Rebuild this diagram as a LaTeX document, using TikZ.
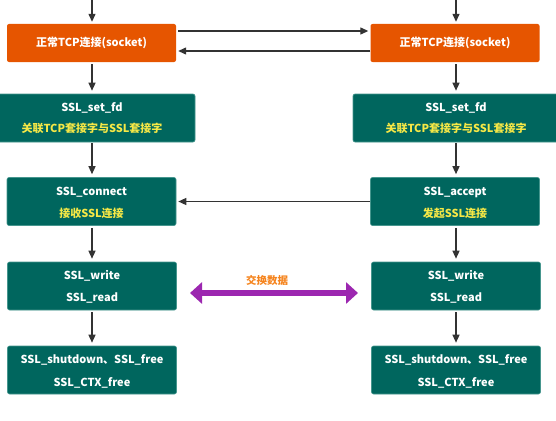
\documentclass[tikz,border=0pt]{standalone}
\usepackage{fontspec}
\setmainfont{Noto Sans CJK SC}
\usetikzlibrary{arrows.meta}
\definecolor{boxteal}{RGB}{0,102,94}
\definecolor{boxedge}{RGB}{70,150,142}
\definecolor{boxorange}{RGB}{230,85,0}
\definecolor{txtyellow}{RGB}{246,232,70}
\definecolor{lblorange}{RGB}{245,132,30}
\definecolor{arrowgray}{RGB}{51,51,51}
\definecolor{xpurple}{RGB}{156,39,176}
\begin{document}
\begin{tikzpicture}[x=1pt,y=-1pt,
  every node/.style={font=\fontsize{11}{13}\selectfont\bfseries, text=white, inner sep=0pt},
  orangebox/.style={fill=boxorange, rounded corners=2pt, minimum width=169pt, minimum height=38pt},
  tealbox/.style={fill=boxteal, draw=boxedge, line width=0.6pt, rounded corners=2pt, minimum width=169pt, minimum height=48pt, align=center},
  widebox/.style={tealbox, minimum width=206pt},
  flow/.style={draw=arrowgray, line width=1.3pt, -{Triangle[length=8pt,width=7pt]}},
  yel/.style={text=txtyellow}
]
\useasboundingbox (0,0) rectangle (556,420);
\begin{scope}
\clip (0,0) rectangle (556,420);
% left column
\node[orangebox] (lo) at (91.5,43) {正常TCP连接(socket)};
\node[widebox] (lf) at (92,118) {};
\node (lft) at (92,108) {SSL\_set\_fd};
\node[yel] (lfy) at (92,128) {关联TCP套接字与SSL套接字};
\node[tealbox] (lc) at (91.5,201.5) {};
\node (lct) at (91.5,192) {SSL\_connect};
\node[yel] (lcy) at (91.5,213) {接收SSL连接};
\node[tealbox] (lw) at (92,286) {};
\node (lwt) at (92,276) {SSL\_write};
\node (lwr) at (92,298) {SSL\_read};
\node[tealbox] (ls) at (92,370) {};
\node (lst) at (92,360) {SSL\_shutdown、SSL\_free};
\node (lsb) at (92,383) {SSL\_CTX\_free};
% right column
\node[orangebox] (ro) at (455,43) {正常TCP连接(socket)};
\node[widebox] (rf) at (456,118) {};
\node (rft) at (456,108) {SSL\_set\_fd};
\node[yel] (rfy) at (456,128) {关联TCP套接字与SSL套接字};
\node[tealbox] (rc) at (455,201.5) {};
\node (rct) at (455,192) {SSL\_accept};
\node[yel] (rcy) at (455,213) {发起SSL连接};
\node[tealbox] (rw) at (456,286) {};
\node (rwt) at (456,276) {SSL\_write};
\node (rwr) at (456,298) {SSL\_read};
\node[tealbox] (rs) at (456,370) {};
\node (rst) at (456,360) {SSL\_shutdown、SSL\_free};
\node (rsb) at (456,383) {SSL\_CTX\_free};
% incoming arrows
\coordinate (ltop) at (92,-2);
\coordinate (rtop) at (456,-2);
\draw[flow, shorten >=2pt] (ltop) -- (lo.north -| ltop);
\draw[flow, shorten >=2pt] (rtop) -- (ro.north -| rtop);
% vertical flows
\draw[flow, shorten <=2pt, shorten >=3pt] (lo.south -| ltop) -- (lf.north -| ltop);
\draw[flow, shorten <=1pt, shorten >=3pt] (lf.south -| ltop) -- (lc.north -| ltop);
\draw[flow, shorten <=2pt, shorten >=3pt] (lc.south -| ltop) -- (lw.north -| ltop);
\draw[flow, shorten <=2pt, shorten >=3pt] (lw.south -| ltop) -- (ls.north -| ltop);
\draw[flow, shorten <=2pt, shorten >=3pt] (ro.south -| rtop) -- (rf.north -| rtop);
\draw[flow, shorten <=1pt, shorten >=3pt] (rf.south -| rtop) -- (rc.north -| rtop);
\draw[flow, shorten <=2pt, shorten >=3pt] (rc.south -| rtop) -- (rw.north -| rtop);
\draw[flow, shorten <=2pt, shorten >=3pt] (rw.south -| rtop) -- (rs.north -| rtop);
% horizontal flows
\draw[flow, shorten <=2pt, shorten >=2pt] ([yshift=12pt]lo.east) -- ([yshift=12pt]ro.west);
\draw[flow, shorten <=0pt, shorten >=2pt] ([yshift=-8pt]ro.west) -- ([yshift=-8pt]lo.east);
\draw[flow, shorten <=0pt, shorten >=2pt] (rc.west) -- (lc.west -| lc.east);
% data exchange
\coordinate (dl) at (190,293);
\coordinate (dr) at (358,293);
\draw[draw=xpurple, line width=6pt, {Triangle[length=12pt,width=21pt]}-{Triangle[length=12pt,width=21pt]}] (dl) -- (dr);
\node[text=lblorange, font=\fontsize{10.5}{12}\selectfont\bfseries] (lbl) at (267,280) {交换数据};
\end{scope}
\end{tikzpicture}
\end{document}
